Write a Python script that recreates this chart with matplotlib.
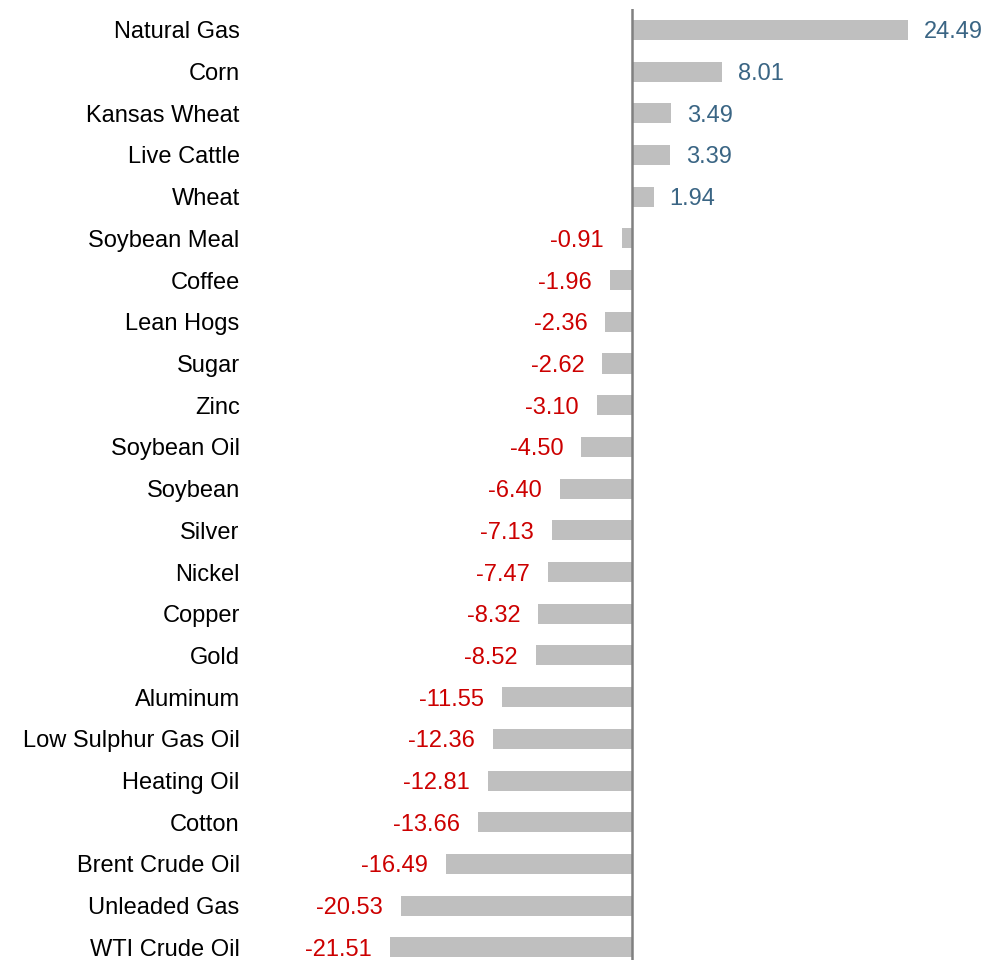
import numpy as np
import matplotlib.pyplot as plt

plt.rcParams['font.family'] = ['Liberation Sans', 'DejaVu Sans']

# commodity returns (%), top to bottom
names = ['Natural Gas', 'Corn', 'Kansas Wheat', 'Live Cattle', 'Wheat',
         'Soybean Meal', 'Coffee', 'Lean Hogs', 'Sugar', 'Zinc',
         'Soybean Oil', 'Soybean', 'Silver', 'Nickel', 'Copper', 'Gold',
         'Aluminum', 'Low Sulphur Gas Oil', 'Heating Oil', 'Cotton',
         'Brent Crude Oil', 'Unleaded Gas', 'WTI Crude Oil']
values = [24.49, 8.01, 3.49, 3.39, 1.94,
          -0.91, -1.96, -2.36, -2.62, -3.10,
          -4.50, -6.40, -7.13, -7.47, -8.32, -8.52,
          -11.55, -12.36, -12.81, -13.66,
          -16.49, -20.53, -21.51]

W, H = 988, 960
fig = plt.figure(figsize=(W / 100, H / 100), dpi=100)
# axes in pixel terms: left 248, right 988, top 9, bottom 960
ax = fig.add_axes([248 / W, 0, (988 - 248) / W, (960 - 9) / H])

y = np.arange(len(names))
ax.barh(y, values, height=0.48, color='#bfbfbf', zorder=2)
ax.axvline(0, color='#808080', lw=1.8, zorder=3)

# px per unit ~ 11.27, zero at x=632
ppu = 276 / 24.49
ax.set_xlim((248 - 632) / ppu, (988 - 632) / ppu)
ax.set_ylim((960 - 30) / 41.7, -0.5)

for yi, v in zip(y, values):
    if v >= 0:
        ax.text(v + 1.4, yi, '{:.2f}'.format(v), color='#3a6584',
                fontsize=17, va='center_baseline', ha='left')
    else:
        ax.text(v - 1.6, yi, '{:.2f}'.format(v), color='#cc0000',
                fontsize=17, va='center_baseline', ha='right')

ax.set_yticks(y)
ax.set_yticklabels(names, fontsize=17)
ax.tick_params(axis='y', length=0, pad=6)
ax.set_xticks([])
for s in ax.spines.values():
    s.set_visible(False)

fig.savefig('out.png', dpi=100)
